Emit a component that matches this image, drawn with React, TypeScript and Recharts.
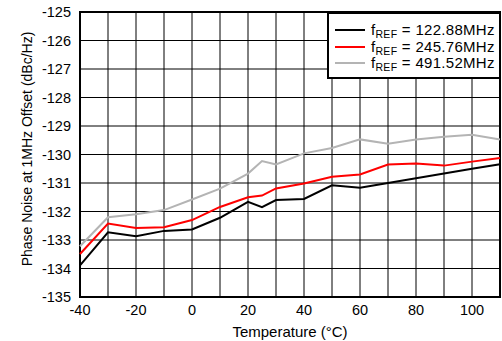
import { CartesianGrid, Label, Line, LineChart, ReferenceArea, XAxis, YAxis } from "recharts";

const temps = [-40, -30, -20, -10, 0, 10, 20, 25, 30, 40, 50, 60, 70, 80, 90, 100, 110];
const ref122 = [-133.89, -132.73, -132.87, -132.68, -132.63, -132.22, -131.66, -131.85, -131.6, -131.56, -131.08, -131.17, -131.0, -130.83, -130.67, -130.5, -130.34];
const ref245 = [-133.49, -132.42, -132.58, -132.55, -132.3, -131.84, -131.5, -131.44, -131.19, -131.02, -130.78, -130.7, -130.35, -130.32, -130.39, -130.25, -130.12];
const ref491 = [-133.22, -132.2, -132.1, -131.95, -131.58, -131.2, -130.67, -130.23, -130.35, -129.96, -129.77, -129.47, -129.62, -129.47, -129.38, -129.31, -129.47];

const xTicks = [-40, -30, -20, -10, 0, 10, 20, 30, 40, 50, 60, 70, 80, 90, 100, 110];
const xLabeled = [-40, -20, 0, 20, 40, 60, 80, 100];
const yTicks = [-135, -134, -133, -132, -131, -130, -129, -128, -127, -126, -125];

const series = [
  { key: "f122", freq: "122.88MHz", color: "#000000" },
  { key: "f245", freq: "245.76MHz", color: "#ff0000" },
  { key: "f491", freq: "491.52MHz", color: "#b4b4b4" },
];

const data = temps.map((t, i) => ({ t, f122: ref122[i], f245: ref245[i], f491: ref491[i] }));

const font = "'Liberation Sans', Arial, sans-serif";
const tickStyle = { fill: "#000", fontSize: 14.5, fontFamily: font };
const textStyle = { fill: "#000", fontSize: 14, fontFamily: font };

function LegendBox() {
  return (
    <div
      style={{
        position: "absolute",
        top: 12,
        left: 327,
        width: 174,
        height: 67,
        boxSizing: "border-box",
        background: "#fff",
        border: "2px solid #000",
        padding: "8px 4px 0 6px",
        fontFamily: font,
        fontSize: 15,
        letterSpacing: 0.3,
        color: "#000",
        lineHeight: "16.5px",
      }}
    >
      {series.map((s) => (
        <div key={s.key} style={{ display: "flex", alignItems: "center", whiteSpace: "nowrap" }}>
          <span style={{ display: "inline-block", width: 30, height: 2, background: s.color, marginRight: 6 }} />
          <span>
            f<sub style={{ fontSize: 10.5, verticalAlign: "-3px", lineHeight: 0 }}>REF</sub> = {s.freq}
          </span>
        </div>
      ))}
    </div>
  );
}

export default function App() {
  return (
    <div style={{ position: "absolute", left: 0, top: 0, width: 502, height: 341, background: "#fff" }}>
      <LineChart width={502} height={341} data={data} margin={{ top: 12, right: 2, bottom: 0, left: 0 }}>
        <CartesianGrid stroke="#000" strokeWidth={1} />
        <XAxis
          dataKey="t"
          type="number"
          domain={[-40, 110]}
          ticks={xTicks}
          interval={0}
          tickFormatter={(v: number) => (xLabeled.includes(v) ? String(v) : "")}
          axisLine={false}
          tickLine={false}
          tickMargin={2}
          height={44}
          tick={tickStyle}
        >
          <Label value="Temperature (°C)" position="insideBottom" offset={4} style={{ ...textStyle, fontSize: 15 }} />
        </XAxis>
        <YAxis
          type="number"
          domain={[-135, -125]}
          ticks={yTicks}
          interval={0}
          axisLine={false}
          tickLine={false}
          tickMargin={3}
          width={80}
          tick={tickStyle}
        >
          <Label
            content={() => (
              <text
                x={27}
                y={149}
                transform="rotate(-90, 27, 149)"
                textAnchor="middle"
                dominantBaseline="central"
                style={textStyle}
              >
                Phase Noise at 1MHz Offset (dBc/Hz)
              </text>
            )}
          />
        </YAxis>
        {series.map((s) => (
          <Line
            key={s.key}
            dataKey={s.key}
            stroke={s.color}
            strokeWidth={2}
            dot={false}
            isAnimationActive={false}
          />
        ))}
        <ReferenceArea x1={-40} x2={110} y1={-135} y2={-125} fill="none" stroke="#000" strokeWidth={2} ifOverflow="visible" />
      </LineChart>
      <LegendBox />
    </div>
  );
}
